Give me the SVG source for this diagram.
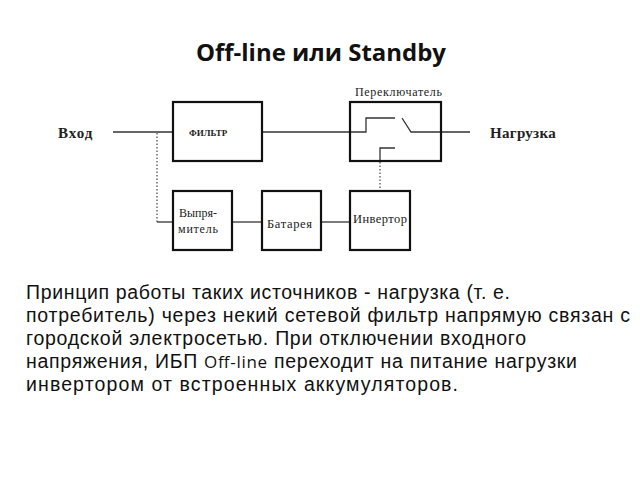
<svg xmlns="http://www.w3.org/2000/svg" width="640" height="480" viewBox="0 0 640 480">
<style>
.box{fill:#fff;stroke:#111;stroke-width:2.2}
.ln{fill:none;stroke:#333;stroke-width:1.3}
.dot{fill:none;stroke:#444;stroke-width:1.2;stroke-dasharray:1.5 2}
.lbl{font-family:"Liberation Serif","Times New Roman",serif;fill:#222}
.body{font-family:"Liberation Sans",Arial,sans-serif;font-size:19.5px;fill:#111}
.ttl{font-family:"Open Sans","Noto Sans",sans-serif;font-weight:bold;font-size:22.5px;fill:#111}
</style>
<rect width="640" height="480" fill="#fff"/>
<text class="ttl" x="196" y="61" textLength="250" lengthAdjust="spacingAndGlyphs">Off-line или Standby</text>
<g id="connectors">
<path class="ln" d="M113 132H173"/>
<path class="ln" d="M262 132H350"/>
<path class="ln" d="M350 132H366V118H395"/>
<path class="ln" d="M402 118L411 132H470"/>
<path class="ln" d="M395 148H380V161"/>
<path class="dot" d="M380 162V191"/>
<path class="dot" d="M157 133V222"/>
<path class="ln" d="M157 222H173"/>
<path class="ln" d="M232 222H262"/>
<path class="ln" d="M321 222H350"/>
</g>
<g id="vhod"><text class="lbl" x="58" y="138" font-size="15" font-weight="bold" letter-spacing="1">Вход</text></g>
<g id="nagruzka"><text class="lbl" x="490" y="138" font-size="15" font-weight="bold" letter-spacing="0.3">Нагрузка</text></g>
<g id="filtr">
<rect class="box" x="173" y="102" width="89" height="59"/>
<text class="lbl" x="189" y="136" font-size="9" font-weight="bold">ФИЛЬТР</text>
</g>
<g id="pereklyuchatel">
<rect class="box" x="350" y="102" width="91" height="59" style="fill:none"/>
<text class="lbl" x="355" y="96" font-size="12" textLength="87" lengthAdjust="spacing">Переключатель</text>
</g>
<g id="vypryamitel">
<rect class="box" x="173" y="191" width="59" height="59"/>
<text class="lbl" x="179" y="217" font-size="12" textLength="38" lengthAdjust="spacing">Выпря-</text>
<text class="lbl" x="178" y="233" font-size="12" textLength="40" lengthAdjust="spacing">митель</text>
</g>
<g id="batareya">
<rect class="box" x="262" y="191" width="59" height="59"/>
<text class="lbl" x="267" y="228" font-size="12.5" textLength="45" lengthAdjust="spacing">Батарея</text>
</g>
<g id="invertor">
<rect class="box" x="350" y="191" width="60" height="59"/>
<text class="lbl" x="353" y="223" font-size="12.5" textLength="54" lengthAdjust="spacing">Инвертор</text>
</g>
<g id="text">
<text class="body" x="26" y="299" textLength="484" lengthAdjust="spacing">Принцип работы таких источников - нагрузка (т. е.</text>
<text class="body" x="26" y="322" textLength="604" lengthAdjust="spacing">потребитель) через некий сетевой фильтр напрямую связан с</text>
<text class="body" x="26" y="345" textLength="500" lengthAdjust="spacing">городской электросетью. При отключении входного</text>
<text class="body" x="26" y="368" textLength="551" lengthAdjust="spacing">напряжения, ИБП <tspan style="font-family:'Open Sans','Noto Sans',sans-serif;font-size:17px">Off-line</tspan> переходит на питание нагрузки</text>
<text class="body" x="26" y="391" textLength="432" lengthAdjust="spacing">инвертором от встроенных аккумуляторов.</text>
</g>
</svg>
